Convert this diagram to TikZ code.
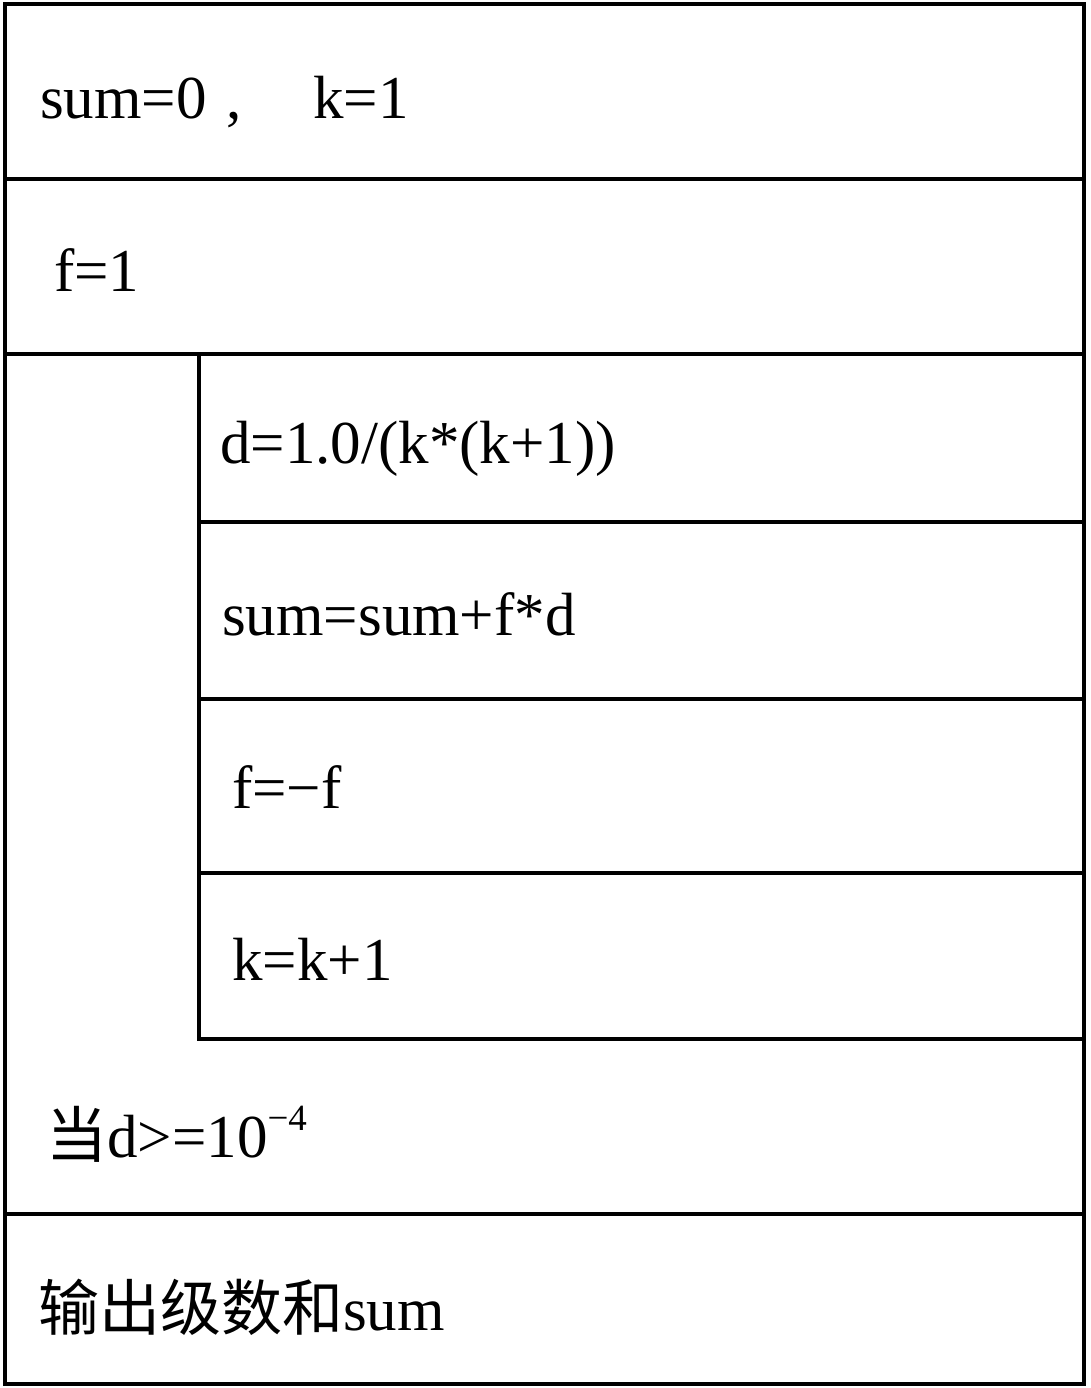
\documentclass[tikz,border=0pt]{standalone}
\usepackage{fontspec}
\setmainfont{Liberation Serif}
\newfontfamily\cjk{Noto Sans CJK SC}
\begin{document}
\begin{tikzpicture}[x=1pt,y=-1pt,
  box/.style={line width=4.6pt},
  lbl/.style={anchor=base west,inner sep=0pt,font=\fontsize{61}{64}\selectfont}]
\useasboundingbox (0,0) rectangle (1090,1388);
% outer frame
\draw[box] (5,4) rectangle (1084,1384);
% full-width separators
\draw[box] (5,179) -- (1084,179);
\draw[box] (5,354) -- (1084,354);
\draw[box] (5,1214) -- (1084,1214);
% loop body block
\draw[box] (199,354) -- (199,1039) -- (1084,1039);
\draw[box] (199,522) -- (1084,522);
\draw[box] (199,699) -- (1084,699);
\draw[box] (199,873) -- (1084,873);
% texts
\node[lbl] (t1) at (40,119) {sum=0\hspace{20pt},};
\node[lbl] (t1b) at (313,119) {k=1};
\node[lbl] (t2) at (54,291) {f=1};
\node[lbl] (t3) at (220,463) {d=1.0/(k*(k+1))};
\node[lbl] (t4) at (222,635) {sum=sum+f*d};
\node[lbl] (t5) at (232,808) {f=−f};
\node[lbl] (t6) at (232,980) {k=k+1};
\node[lbl] (t7) at (46,1157) {{\cjk 当}d>=10\raisebox{27pt}{\fontsize{37}{39}\selectfont −4}};
\node[lbl] (t8) at (38,1330) {{\cjk 输出级数和}sum};
\end{tikzpicture}
\end{document}
